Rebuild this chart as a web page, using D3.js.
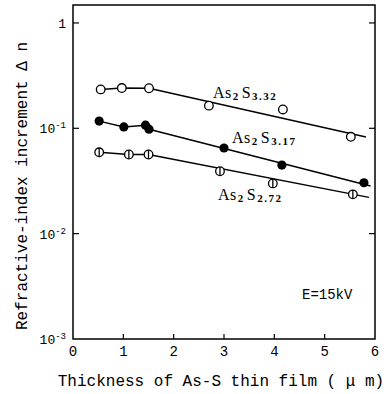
<!DOCTYPE html>
<html>
<head>
<meta charset="utf-8">
<script src="https://cdn.jsdelivr.net/npm/d3@7"></script>
<style>
  body { margin: 0; background: #fff; }
  text { fill: #000; }
</style>
</head>
<body>
<div id="chart"></div>
<script>
// thickness (um) and refractive-index increment for each film
const s332X = [0.55, 0.97, 1.51, 2.70, 4.17, 5.52];
const s332Y = [0.234, 0.241, 0.240, 0.164, 0.151, 0.083];
const s317X = [0.52, 1.01, 1.44, 1.51, 3.00, 4.15, 5.78];
const s317Y = [0.117, 0.103, 0.107, 0.098, 0.065, 0.0448, 0.0304];
const s272X = [0.52, 1.11, 1.50, 2.92, 3.97, 5.56];
const s272Y = [0.0592, 0.0564, 0.0564, 0.0391, 0.0300, 0.0236];

// straight fitted lines drawn from the last flat point onward
const fit332 = [[1.51, 0.240], [5.82, 0.0826]];
const fit317 = [[1.51, 0.098], [5.91, 0.0283]];
const fit272 = [[1.50, 0.0564], [5.88, 0.0221]];

const xTicks = [0, 1, 2, 3, 4, 5, 6];
const yTicks = [1, 0.1, 0.01, 0.001];
const yTickLabels = [["1", ""], ["10", "-1"], ["10", "-2"], ["10", "-3"]];

const W = 388, H = 394;
const svg = d3.select('#chart').append('svg')
  .attr('width', W).attr('height', H);

const x = d3.scaleLinear().domain([0, 6]).range([73, 375]);
const y = d3.scaleLog().domain([0.001, 1.48]).range([339, 5]);

const mono = '"Liberation Mono", "DejaVu Sans Mono", monospace';

// frame
svg.append('rect')
  .attr('x', x(0)).attr('y', y(1.48))
  .attr('width', x(6) - x(0)).attr('height', y(0.001) - y(1.48))
  .attr('fill', 'none').attr('stroke', '#000').attr('stroke-width', 1.5);

// inner ticks
svg.append('g').selectAll('line.xt')
  .data(xTicks.slice(1, -1)).enter().append('line')
  .attr('x1', d => x(d)).attr('x2', d => x(d))
  .attr('y1', y(0.001)).attr('y2', y(0.001) - 5)
  .attr('stroke', '#000').attr('stroke-width', 1.2);

svg.append('g').selectAll('line.yt')
  .data(yTicks.slice(0, 3)).enter().append('line')
  .attr('x1', x(0)).attr('x2', x(0) + 6)
  .attr('y1', d => y(d)).attr('y2', d => y(d))
  .attr('stroke', '#000').attr('stroke-width', 1.2);

svg.append('g').selectAll('line.yr')
  .data(yTicks.slice(0, 3)).enter().append('line')
  .attr('x1', x(6)).attr('x2', x(6) - 6)
  .attr('y1', d => y(d)).attr('y2', d => y(d))
  .attr('stroke', '#000').attr('stroke-width', 1.2);

// tick labels
svg.append('g').selectAll('text')
  .data(xTicks).enter().append('text')
  .attr('x', d => x(d)).attr('y', 356)
  .attr('text-anchor', 'middle')
  .style('font-family', mono).style('font-size', '14px')
  .text(d => d);

const yl = svg.append('g').selectAll('text')
  .data(yTicks).enter().append('text')
  .attr('x', 66).attr('y', d => y(d) + 5)
  .attr('text-anchor', 'end')
  .style('font-family', mono).style('font-size', '13px');
yl.append('tspan').text((d, i) => yTickLabels[i][0]);
yl.append('tspan').attr('dy', -5).style('font-size', '9px')
  .text((d, i) => yTickLabels[i][1]);

// axis titles
svg.append('text')
  .attr('x', 221).attr('y', 386)
  .attr('text-anchor', 'middle')
  .style('font-family', mono).style('font-size', '16px')
  .text('Thickness of As-S thin film ( \u03bc m)');

svg.append('text')
  .attr('transform', `translate(27,${(y(1.48) + y(0.001)) / 2 + 14}) rotate(-90)`)
  .attr('text-anchor', 'middle')
  .style('font-family', mono).style('font-size', '16px')
  .text('Refractive-index increment \u0394 n');

// connecting lines and fits
const line = d3.line().x(d => x(d[0])).y(d => y(d[1]));
function flat(xs, ys, n) {
  return xs.slice(0, n).map((v, i) => [v, ys[i]]);
}
[[flat(s332X, s332Y, 3), fit332], [flat(s317X, s317Y, 4), fit317], [flat(s272X, s272Y, 3), fit272]]
  .forEach(([f, l]) => {
    svg.append('path').attr('d', line(f)).attr('fill', 'none')
      .attr('stroke', '#000').attr('stroke-width', 1.5);
    svg.append('path').attr('d', line(l)).attr('fill', 'none')
      .attr('stroke', '#000').attr('stroke-width', 1.5);
  });

// markers
const r = 4.3;
svg.append('g').selectAll('circle')
  .data(d3.zip(s332X, s332Y)).enter().append('circle')
  .attr('cx', d => x(d[0])).attr('cy', d => y(d[1])).attr('r', r)
  .attr('fill', '#fff').attr('stroke', '#000').attr('stroke-width', 1.3);

svg.append('g').selectAll('circle')
  .data(d3.zip(s317X, s317Y)).enter().append('circle')
  .attr('cx', d => x(d[0])).attr('cy', d => y(d[1])).attr('r', r + 0.3)
  .attr('fill', '#000');

const half = svg.append('g').selectAll('g')
  .data(d3.zip(s272X, s272Y)).enter().append('g')
  .attr('transform', d => `translate(${x(d[0])},${y(d[1])})`);
half.append('circle').attr('r', r)
  .attr('fill', '#fff').attr('stroke', '#000').attr('stroke-width', 1.3);
half.append('line').attr('y1', -r).attr('y2', r)
  .attr('stroke', '#000').attr('stroke-width', 1.3);

// series labels
const serif = '"Liberation Serif", "DejaVu Serif", serif';
const labels = [
  { t: '3.32', px: 2.78, py: 0.194 },
  { t: '3.17', px: 3.16, py: 0.0724 },
  { t: '2.72', px: 2.88, py: 0.0209 }
];
labels.forEach(d => {
  const t = svg.append('text')
    .attr('x', x(d.px)).attr('y', y(d.py))
    .style('font-family', serif).style('font-size', '16px')
    .style('letter-spacing', '0.5px');
  t.append('tspan').text('As');
  t.append('tspan').attr('dy', 2).attr('dx', 1).style('font-size', '11px').style('font-weight', 'bold').text('2');
  t.append('tspan').attr('dy', -2).attr('dx', 3).text('S');
  t.append('tspan').attr('dy', 2).attr('dx', 1).style('font-size', '11px').style('font-weight', 'bold')
    .style('letter-spacing', '1.5px').text(d.t);
});

svg.append('text')
  .attr('x', 302).attr('y', 299)
  .style('font-family', mono).style('font-size', '14px')
  .text('E=15kV');
</script>
</body>
</html>
